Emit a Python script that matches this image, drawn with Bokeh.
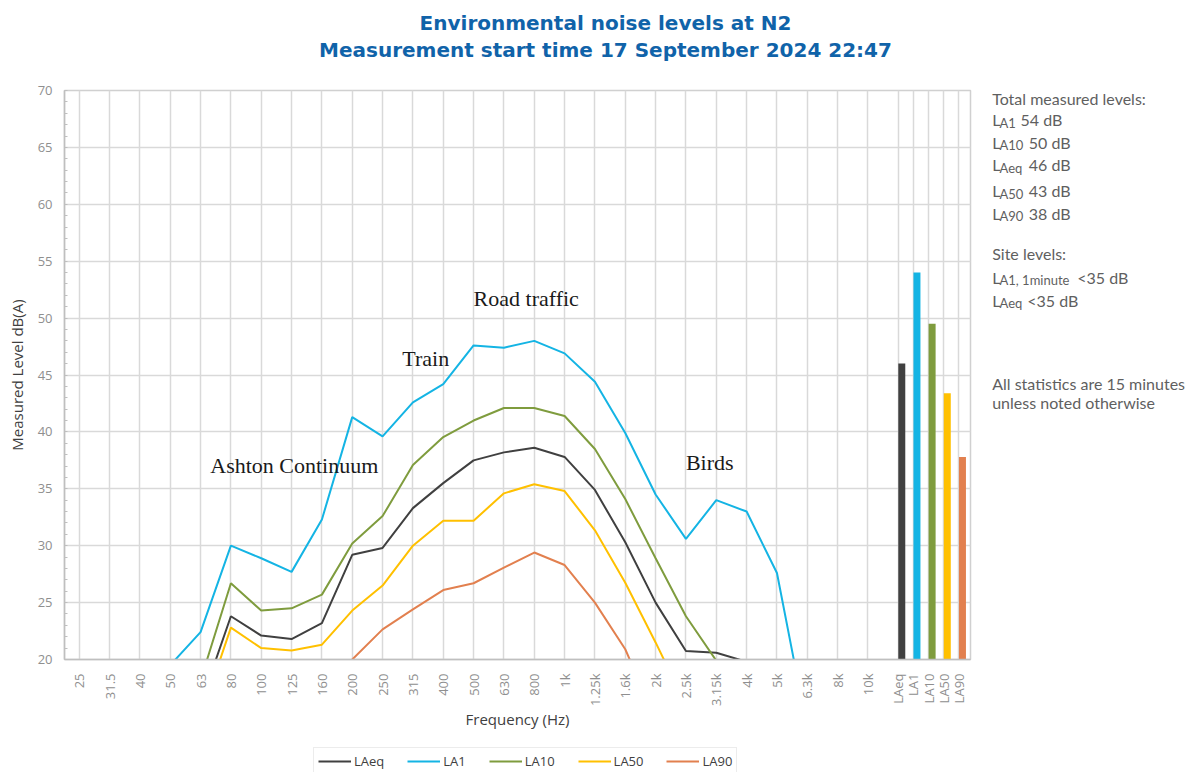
import math
from bokeh.plotting import figure
from bokeh.layouts import column, row
from bokeh.models import FixedTicker, Label, Range1d, Legend, LegendItem
from bokeh.embed import file_html
from bokeh.resources import INLINE

# ---------------- data ----------------
bands = ["25", "31.5", "40", "50", "63", "80", "100", "125", "160", "200", "250",
         "315", "400", "500", "630", "800", "1k", "1.25k", "1.6k", "2k", "2.5k",
         "3.15k", "4k", "5k", "6.3k", "8k", "10k"]

la_eq = [11.0, 12.0, 13.0, 14.0, 16.1, 23.8, 22.1, 21.8, 23.2, 29.2, 29.8, 33.3, 35.5,
         37.5, 38.2, 38.6, 37.8, 34.9, 30.3, 25.0, 20.75, 20.6, 19.8, 17.0, 15.0, 13.0, 12.0]
la_1 = [16.5, 17.0, 18.0, 19.5, 22.4, 30.0, 28.9, 27.7, 32.3, 41.3, 39.6, 42.6, 44.2,
        47.6, 47.4, 48.0, 46.9, 44.4, 39.9, 34.5, 30.6, 34.0, 33.0, 27.6, 13.9, 12.0, 11.0]
la_10 = [12.0, 13.0, 14.0, 15.0, 18.15, 26.7, 24.3, 24.5, 25.7, 30.2, 32.6, 37.1, 39.55,
         41.0, 42.1, 42.1, 41.4, 38.5, 34.1, 28.9, 23.8, 19.9, 15.0, 13.0, 12.0, 11.0, 10.0]
la_50 = [10.0, 11.0, 12.0, 13.0, 14.9, 22.8, 21.0, 20.8, 21.3, 24.3, 26.5, 30.0, 32.2,
         32.2, 34.6, 35.4, 34.8, 31.35, 26.75, 21.5, 16.0, 14.0, 12.0, 11.0, 10.0, 9.0, 8.0]
la_90 = [8.0, 9.0, 10.0, 11.0, 12.0, 13.0, 14.0, 15.0, 16.0, 20.0, 22.65, 24.4, 26.1,
         26.7, 28.07, 29.4, 28.3, 25.0, 20.9, 14.8, 12.0, 11.0, 10.0, 9.0, 8.0, 7.0, 6.0]

stat_names = ["LAeq", "LA1", "LA10", "LA50", "LA90"]
stat_totals = [46.0, 54.0, 49.5, 43.4, 37.8]

series_names = ["LAeq", "LA1", "LA10", "LA50", "LA90"]
series_values = [la_eq, la_1, la_10, la_50, la_90]
colors = ["#404040", "#14b4e4", "#7f9c3e", "#ffc000", "#e2804f"]

y_ticks = [20, 25, 30, 35, 40, 45, 50, 55, 60, 65, 70]

title_1 = "Environmental noise levels at N2"
title_2 = "Measurement start time 17 September 2024 22:47"

# ---------------- layout sizes ----------------
TOTAL_W = 1195
TITLE_H = 70
MAIN_W, MAIN_H = 972, 670
SIDE_W = TOTAL_W - MAIN_W
LEG_H = 772 - TITLE_H - MAIN_H
BORDER_TOP = 20
FRAME_H = 569
BORDER_BOTTOM = MAIN_H - BORDER_TOP - FRAME_H
BASE_K = 0.38  # baseline correction factor for Label text


def blank_fig(w, h):
    f = figure(width=w, height=h, output_backend="svg", toolbar_location=None,
               x_axis_type=None, y_axis_type=None, title=None,
               min_border_left=0, min_border_right=0, min_border_top=0,
               min_border_bottom=0, x_range=Range1d(0, 1), y_range=Range1d(0, 1))
    f.outline_line_color = None
    f.background_fill_color = "white"
    f.border_fill_color = "white"
    return f


def add_text(fig, ox, oy_bottom, px, py, text, size, color, font="Lato",
             style="normal", align="left"):
    # px, py: page pixel position of the text baseline start
    fig.add_layout(Label(x=px - ox, y=oy_bottom - py + BASE_K * size,
                         x_units="screen", y_units="screen",
                         text=text, text_font=font, text_font_size=f"{size}px",
                         text_color=color, text_font_style=style, text_align=align,
                         text_baseline="alphabetic"))


# ---------------- title ----------------
tf = blank_fig(TOTAL_W, TITLE_H)
TITLE_C = "#1063a9"
add_text(tf, 0, TITLE_H, 605, 30, title_1, 20, TITLE_C, font="DejaVu Sans",
         style="bold", align="center")
add_text(tf, 0, TITLE_H, 605, 57, title_2, 20, TITLE_C, font="DejaVu Sans",
         style="bold", align="center")

# ---------------- main chart ----------------
n = len(bands)
band_x = list(range(n))
stat_x = [n + 0.5 * i for i in range(len(stat_names))]

p = figure(width=MAIN_W, height=MAIN_H, output_backend="svg", toolbar_location=None,
           title=None, x_range=Range1d(-0.485, 29.38), y_range=Range1d(20, 70),
           min_border_left=64, min_border_right=2, min_border_top=BORDER_TOP,
           min_border_bottom=BORDER_BOTTOM, background_fill_color="white",
           border_fill_color="white")
p.outline_line_color = "#d0d0d0"
p.outline_line_width = 1.5

xticks = band_x + stat_x
overrides = {}
for xv, lab in zip(band_x, bands):
    overrides[xv] = lab
for xv, lab in zip(stat_x, stat_names):
    overrides[xv] = lab
p.xaxis.ticker = FixedTicker(ticks=xticks)
p.xaxis.major_label_overrides = overrides
p.xaxis.major_label_orientation = math.pi / 2
p.xaxis.major_tick_out = 0
p.xaxis.major_tick_in = 0
p.xaxis.minor_tick_out = 0
p.xaxis.minor_tick_in = 0
p.xaxis.major_label_standoff = 14
p.xaxis.axis_label = "Frequency (Hz)"
p.xaxis.axis_label_standoff = 0

p.yaxis.ticker = FixedTicker(ticks=y_ticks, minor_ticks=list(range(20, 71)))
p.yaxis.major_tick_out = 0
p.yaxis.major_tick_in = 0
p.yaxis.minor_tick_out = 0
p.yaxis.minor_tick_in = 3
p.yaxis.minor_tick_line_color = "#bfbfbf"
p.yaxis.major_label_standoff = 12
p.yaxis.axis_label = "Measured Level dB(A)"
p.yaxis.axis_label_standoff = 8

for ax in (p.xaxis, p.yaxis):
    ax.axis_line_color = "#bfbfbf"
    ax.axis_line_width = 1.5
    ax.major_label_text_font = "Open Sans"
    ax.major_label_text_font_size = "13px"
    ax.major_label_text_color = "#8f8f8f"
    ax.axis_label_text_font = "Open Sans"
    ax.axis_label_text_font_size = "15px"
    ax.axis_label_text_font_style = "normal"
    ax.axis_label_text_color = "#404040"

p.xgrid.ticker = FixedTicker(ticks=xticks)
p.ygrid.ticker = FixedTicker(ticks=y_ticks)
for g in (p.xgrid, p.ygrid):
    g.grid_line_color = "#d9d9d9"
    g.grid_line_width = 1.5

for name, vals, col in zip(series_names, series_values, colors):
    p.line(band_x, vals, line_color=col, line_width=2)

bar_w = 0.23
p.vbar(x=[xv + bar_w / 2 for xv in stat_x], top=stat_totals, bottom=0,
       width=bar_w, fill_color=colors, line_color=None)

notes = [("Ashton Continuum", 4.32, 36.3), ("Train", 10.65, 45.7),
         ("Road traffic", 13.0, 51.0), ("Birds", 20.0, 36.6)]
NOTE_SIZE = 22
for txt, nx, ny in notes:
    p.add_layout(Label(x=nx, y=ny, y_offset=BASE_K * NOTE_SIZE, text=txt,
                       text_font="Liberation Serif",
                       text_font_size=f"{NOTE_SIZE}px", text_color="#1a1a1a",
                       text_baseline="alphabetic", text_align="left"))

# ---------------- right-hand text panel ----------------
sf = blank_fig(SIDE_W, MAIN_H)
SOX = MAIN_W
SOY = TITLE_H + BORDER_TOP + FRAME_H  # side frame is aligned with the chart frame
GREY = "#5f5f5f"
TX = 991.7
SUBX = 999.0
SUB_SIZE = 13
add_text(sf, SOX, SOY, TX, 104, "Total measured levels:", 16, GREY)

level_lines = [
    ("A1", "54 dB", 1020.0, 125.5),
    ("A10", "50 dB", 1028.3, 148.0),
    ("Aeq", "46 dB", 1028.3, 170.5),
    ("A50", "43 dB", 1028.3, 196.5),
    ("A90", "38 dB", 1028.3, 219.0),
]
for sub, main, mx, by in level_lines:
    add_text(sf, SOX, SOY, TX, by, "L", 16, GREY)
    add_text(sf, SOX, SOY, SUBX, by + 1.5, sub, SUB_SIZE, GREY)
    add_text(sf, SOX, SOY, mx, by, main, 16, GREY)

add_text(sf, SOX, SOY, TX, 259.5, "Site levels:", 16, GREY)
site_lines = [("A1, 1minute", "<35 dB", 1076.7, 283.0),
              ("Aeq", "<35 dB", 1026.7, 306.0)]
for sub, main, mx, by in site_lines:
    add_text(sf, SOX, SOY, TX, by, "L", 16, GREY)
    add_text(sf, SOX, SOY, SUBX, by + 1.5, sub, SUB_SIZE, GREY)
    add_text(sf, SOX, SOY, mx, by, main, 16, GREY)

add_text(sf, SOX, SOY, TX, 389.5, "All statistics are 15 minutes", 16, GREY)
add_text(sf, SOX, SOY, TX, 408.0, "unless noted otherwise", 16, GREY)

# ---------------- legend strip ----------------
lf = blank_fig(TOTAL_W, LEG_H)
items = []
nan = float("nan")
for name, col in zip(series_names, colors):
    r = lf.line(x=[nan], y=[nan], line_color=col, line_width=2)
    items.append(LegendItem(label=name, renderers=[r]))
lg = Legend(items=items, orientation="horizontal", location=(313, -3),
            padding=4, spacing=23, margin=0, glyph_width=33, glyph_height=18,
            label_height=18, label_standoff=3, label_text_font="Open Sans",
            label_text_font_size="13px", label_text_color="#404040",
            border_line_color="#d9d9d9", border_line_width=1,
            background_fill_color="white", background_fill_alpha=1.0)
lf.add_layout(lg)

layout = column(tf, row(p, sf), lf)
open("out.html", "w").write(file_html(layout, INLINE))
